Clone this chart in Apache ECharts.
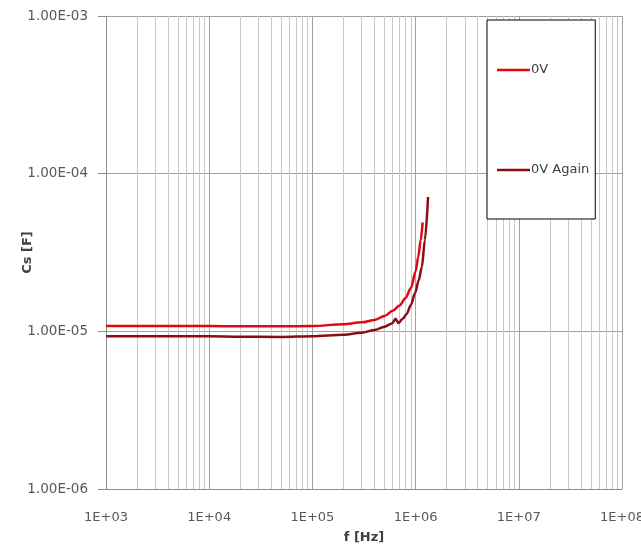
<!DOCTYPE html>
<html><head><meta charset="utf-8">
<script src="https://cdn.jsdelivr.net/npm/echarts@6/dist/echarts.min.js"></script>
<style>html,body{margin:0;padding:0;background:#fff}#c{width:641px;height:549px}</style>
</head><body><div id="c"></div>
<script>
// Series "0V"
const freq0 = [1e3, 2e3, 5e3, 1e4, 2e4, 5e4, 1e5, 2e5, 3e5, 4e5, 5e5, 6e5, 7e5, 8e5, 9e5, 1e6, 1.06e6, 1.12e6, 1.17e6];
const cs0   = [1.08e-5, 1.08e-5, 1.08e-5, 1.08e-5, 1.077e-5, 1.076e-5, 1.08e-5, 1.11e-5, 1.14e-5, 1.18e-5, 1.25e-5, 1.35e-5, 1.46e-5, 1.63e-5, 1.88e-5, 2.4e-5, 2.96e-5, 3.78e-5, 4.91e-5];
// Series "0V Again"
const freq1 = [1e3, 2e3, 5e3, 1e4, 2e4, 5e4, 1e5, 2e5, 3e5, 4e5, 5e5, 5.9e5, 6.4e5, 6.8e5, 7.5e5, 8.2e5, 9e5, 9.9e5, 1.07e6, 1.15e6, 1.23e6, 1.32e6];
const cs1   = [9.3e-6, 9.3e-6, 9.3e-6, 9.3e-6, 9.25e-6, 9.22e-6, 9.3e-6, 9.5e-6, 9.8e-6, 1.02e-5, 1.07e-5, 1.12e-5, 1.20e-5, 1.13e-5, 1.20e-5, 1.29e-5, 1.47e-5, 1.75e-5, 2.1e-5, 2.56e-5, 3.78e-5, 7.11e-5];
const seriesNames = ['0V', '0V Again'];
const seriesColors = ['#e30613', '#8b0d14'];
const xRange = [1e3, 1e8];
const yRange = [1e-6, 1e-3];

// minor grid positions (2..9 within each decade)
const minorX = [], minorY = [];
for (let e = 3; e < 8; e++) for (let d = 2; d <= 9; d++) minorX.push(d * Math.pow(10, e));
for (let e = -6; e < -3; e++) for (let d = 2; d <= 9; d++) minorY.push(d * Math.pow(10, e));

function fmtY(v) {
  const e = Math.round(Math.log10(v));
  const m = v / Math.pow(10, e);
  return m.toFixed(2) + 'E' + (e < 0 ? '-' : '+') + String(Math.abs(e)).padStart(2, '0');
}
function fmtX(v) {
  const e = Math.round(Math.log10(v));
  return '1E' + (e < 0 ? '-' : '+') + String(Math.abs(e)).padStart(2, '0');
}
const font = 'DejaVu Sans';
const chart = echarts.init(document.getElementById('c'));
chart.setOption({
  animation: false,
  backgroundColor: '#fff',
  textStyle: { fontFamily: font },
  grid: { left: 106, right: 19, top: 16, bottom: 60, containLabel: false, outerBoundsMode: 'none' },
  xAxis: {
    type: 'log', logBase: 10, min: xRange[0], max: xRange[1],
    name: 'f [Hz]', nameLocation: 'middle', nameGap: 42,
    nameTextStyle: { fontFamily: font, fontWeight: 'bold', fontSize: 13, color: '#404040' },
    axisLine: { show: true, lineStyle: { color: '#8c8c8c', width: 1 } },
    axisTick: { show: false },
    axisLabel: { formatter: fmtX, fontFamily: font, fontSize: 13, color: '#595959', margin: 22 },
    splitLine: { show: true, lineStyle: { color: '#a0a0a0', width: 1 } }
  },
  yAxis: {
    type: 'log', logBase: 10, min: yRange[0], max: yRange[1],
    name: 'Cs [F]', nameLocation: 'middle', nameGap: 72, nameRotate: 90, nameMoveOverlap: false,
    nameTextStyle: { fontFamily: font, fontWeight: 'bold', fontSize: 13, color: '#404040' },
    axisLine: { show: true, lineStyle: { color: '#8c8c8c', width: 1 } },
    axisTick: { show: true, inside: false, length: 8, lineStyle: { color: '#8c8c8c' } },
    axisLabel: { formatter: fmtY, fontFamily: font, fontSize: 13.5, color: '#595959', margin: 18 },
    splitLine: { show: true, lineStyle: { color: '#a0a0a0', width: 1 } }
  },
  legend: {
    data: seriesNames,
    icon: 'rect', z: 10,
    orient: 'vertical', left: 487, top: 20,
    padding: [43, 6, 42, 10], itemGap: 86,
    itemWidth: 33, itemHeight: 2.5,
    backgroundColor: '#fff', borderColor: '#000', borderWidth: 1,
    textStyle: { fontFamily: font, fontSize: 13, color: '#404040', lineHeight: 14, padding: [0, 0, 0, -4] }
  },
  series: [
    {
      type: 'line', name: '_grid', data: [], z: 0, silent: true,
      markLine: {
        z: 1, silent: true, symbol: ['none', 'none'], animation: false,
        label: { show: false },
        lineStyle: { color: '#c8c8c8', width: 1, type: 'solid' },
        emphasis: { disabled: true },
        data: minorX.map(v => ({ xAxis: v })).concat(minorY.map(v => ({ yAxis: v })))
      }
    },
    {
      type: 'line', name: seriesNames[0], symbol: 'none', smooth: 0.3, smoothMonotone: 'x',
      data: freq0.map((f, i) => [f, cs0[i]]),
      lineStyle: { color: seriesColors[0], width: 2.5 }, itemStyle: { color: seriesColors[0] }, z: 3
    },
    {
      type: 'line', name: seriesNames[1], symbol: 'none', smooth: 0.3, smoothMonotone: 'x',
      data: freq1.map((f, i) => [f, cs1[i]]),
      lineStyle: { color: seriesColors[1], width: 2.5 }, itemStyle: { color: seriesColors[1] }, z: 3
    }
  ]
});
</script></body></html>
